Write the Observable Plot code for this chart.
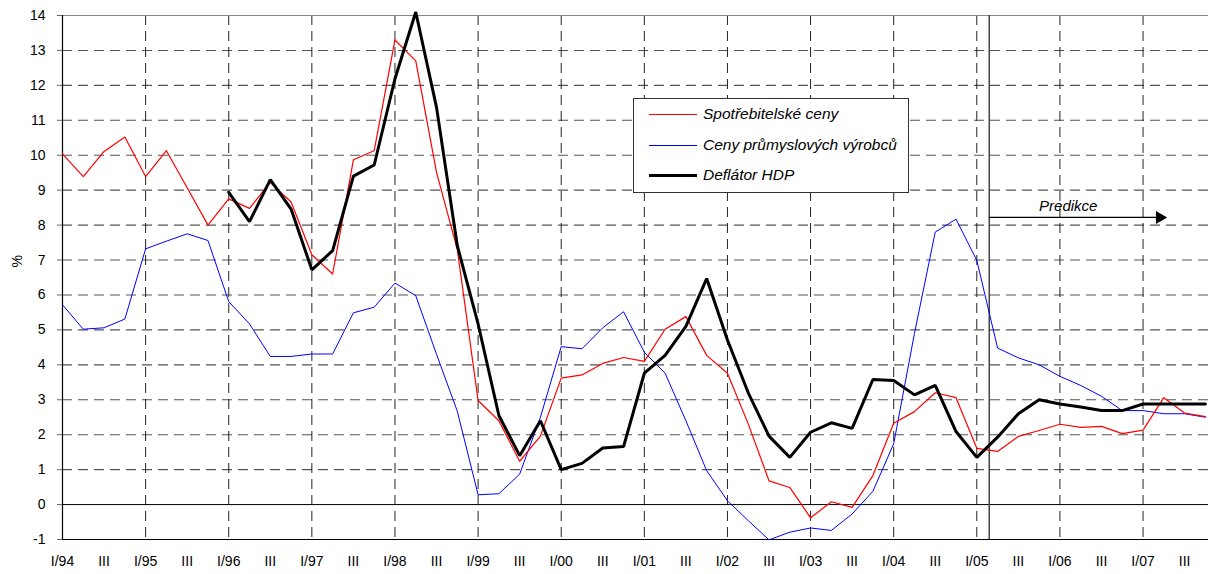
<!DOCTYPE html>
<html>
<head>
<meta charset="utf-8">
<script src="https://cdn.jsdelivr.net/npm/d3@7"></script>
<script src="https://cdn.jsdelivr.net/npm/@observablehq/plot@0.6"></script>
<style>
  html, body { margin: 0; padding: 0; background: #fff; }
  #wrap { position: relative; width: 1208px; height: 574px; font-family: "Liberation Sans", Arial, sans-serif; }
  #legend { position: absolute; left: 633px; top: 98px; width: 274px; height: 93px; border: 1px solid #333; background: #fff; box-sizing: content-box; }
  .row { position: absolute; left: 0; height: 20px; display: flex; align-items: center; }
  .sw { width: 48px; margin-left: 15px; margin-right: 6px; }
  .lab { font-style: italic; font-size: 15.5px; color: #000; white-space: nowrap; }
</style>
</head>
<body>
<div id="wrap">
  <div id="chart"></div>
  <div id="legend"></div>
</div>
<script>
// Quarterly y/y growth, %, quarter index 0 = I/94 ... 55 = IV/07
const years = ["94","95","96","97","98","99","00","01","02","03","04","05","06","07"];
const cpi = [10.04, 9.39, 10.11, 10.52, 9.39, 10.13, 9.07, 8.0, 8.75, 8.48,
             9.22, 8.66, 7.15, 6.6, 9.87, 10.13, 13.3, 12.7, 9.51, 7.3,
             2.98, 2.4, 1.24, 1.96, 3.62, 3.71, 4.04, 4.21, 4.1, 5.02,
             5.38, 4.27, 3.76, 2.31, 0.68, 0.49, -0.38, 0.08, -0.08, 0.83,
             2.33, 2.66, 3.2, 3.06, 1.61, 1.52, 1.95, 2.12, 2.3, 2.21,
             2.24, 2.03, 2.13, 3.06, 2.62, 2.52];
const ppi = [5.72, 5.02, 5.06, 5.31, 7.32, 7.54, 7.75, 7.56, 5.81, 5.17,
             4.24, 4.24, 4.31, 4.31, 5.49, 5.65, 6.34, 5.98, 4.3, 2.67,
             0.28, 0.31, 0.87, 2.5, 4.52, 4.46, 5.06, 5.52, 4.36, 3.76,
             2.4, 0.97, 0.11, -0.46, -1.01, -0.79, -0.67, -0.74, -0.27, 0.38,
             1.74, 4.9, 7.8, 8.17, 6.99, 4.48, 4.2, 4.0, 3.67, 3.41,
             3.1, 2.69, 2.69, 2.6, 2.6, 2.5];
const deflator = [null, null, null, null, null, null, null, null, 8.94, 8.10,
             9.30, 8.46, 6.72, 7.27, 9.40, 9.72, 12.19, 14.1, 11.37, 7.41,
             5.17, 2.55, 1.40, 2.40, 1.0, 1.18, 1.62, 1.66, 3.76, 4.27,
             5.1, 6.47, 4.71, 3.2, 1.96, 1.35, 2.07, 2.34, 2.18, 3.58,
             3.55, 3.14, 3.41, 2.09, 1.35, 1.93, 2.6, 3.0, 2.88, 2.79,
             2.69, 2.69, 2.88, 2.88, 2.88, 2.88];
const seriesNames = ["Spotřebitelské ceny", "Ceny průmyslových výrobců", "Deflátor HDP"];
const yTicks = d3.range(-1, 15);
const predictionStart = 44.6;   // quarter position of the forecast divider
const predictionEnd = 52.8;
const predictionLevel = 8.22;
const predictionText = "Predikce";

const xLabels = years.flatMap(y => ["I/" + y, "III"]);
const toRows = arr => arr.map((v, i) => ({q: i, v}));

const chart = Plot.plot({
  width: 1208,
  height: 574,
  marginLeft: 62,
  marginRight: 0,
  marginTop: 15,
  marginBottom: 35,
  style: {fontFamily: "'Liberation Sans', Arial, sans-serif", background: "#fff", overflow: "visible"},
  x: {domain: [0, 55.15], axis: null},
  y: {domain: [-1, 14], axis: null},
  marks: [
    // horizontal dashed grid
    Plot.ruleY(yTicks.filter(d => d > 0 && d < 14), {stroke: "#555", strokeWidth: 1.1, strokeDasharray: "10,6"}),
    // vertical dashed grid at each year start
    Plot.ruleX(d3.range(4, 56, 4), {stroke: "#222", strokeWidth: 1, strokeDasharray: "10,6"}),
    Plot.ruleY([14], {stroke: "#888", strokeWidth: 1}),
    Plot.ruleY([0, -1], {stroke: "#000", strokeWidth: 1}),
    Plot.ruleX([0], {stroke: "#000", strokeWidth: 1.2}),
    Plot.ruleX([predictionStart], {stroke: "#444", strokeWidth: 1.5}),
    Plot.axisY({ticks: yTicks, tickSize: 5, tickPadding: 12, fontSize: 14, stroke: "#666",
                tickFormat: d => String(d), fill: "#000", label: null}),
    Plot.axisX({ticks: d3.range(0, 56, 2), tickSize: 0, tickPadding: 17, fontSize: 14,
                tickFormat: d => xLabels[d / 2], fill: "#000", label: null}),
    Plot.text(["%"], {frameAnchor: "left", dx: -45, dy: -10, rotate: -90, fontSize: 14, fill: "#000"}),
    // forecast arrow
    Plot.ruleY([predictionLevel], {x1: predictionStart, x2: predictionEnd, stroke: "#000", strokeWidth: 1.3}),
    Plot.dot([{q: predictionEnd, v: predictionLevel}], {x: "q", y: "v", symbol: "triangle", rotate: 90, r: 4.8, fill: "#000", stroke: "none"}),
    Plot.text([predictionText], {x: 48.4, y: 8.54, fontSize: 15, fontStyle: "italic", fill: "#000"}),
    // series
    Plot.line(toRows(ppi), {x: "q", y: "v", stroke: "#0000ff", strokeWidth: 1}),
    Plot.line(toRows(cpi), {x: "q", y: "v", stroke: "#ff0000", strokeWidth: 1.2}),
    Plot.line(toRows(deflator), {x: "q", y: "v", stroke: "#000", strokeWidth: 3, strokeLinejoin: "miter"})
  ]
});
document.getElementById("chart").appendChild(chart);

// legend
const legendColors = ["#ff0000", "#0000ff", "#000"];
const legendWidths = [1.2, 1, 3];
const legendTops = [5, 36, 66];
const legend = document.getElementById("legend");
seriesNames.forEach((name, i) => {
  const row = document.createElement("div");
  row.className = "row";
  row.style.top = legendTops[i] + "px";
  const sw = document.createElement("div");
  sw.className = "sw";
  sw.style.borderTop = legendWidths[i] + "px solid " + legendColors[i];
  const lab = document.createElement("span");
  lab.className = "lab";
  lab.textContent = name;
  row.appendChild(sw);
  row.appendChild(lab);
  legend.appendChild(row);
});
</script>
</body>
</html>
